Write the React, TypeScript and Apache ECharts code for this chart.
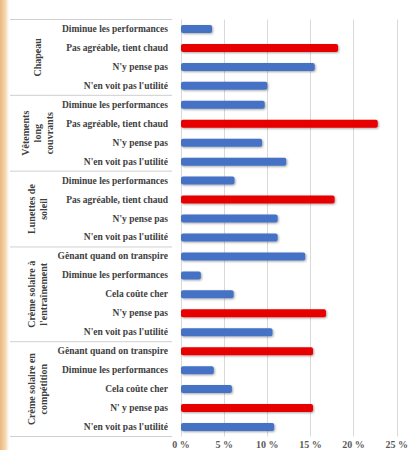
import React, { useEffect, useRef } from "react";
import * as echarts from "echarts";

const groupNames = [
  "Chapeau",
  "Vêtements\nlong\ncouvrants",
  "Lunettes de\nsoleil",
  "Crème solaire à\nl'entraînement",
  "Crème solaire en\ncompétition",
];

const chapeauReasons = ["Diminue les performances", "Pas agréable, tient chaud", "N'y pense pas", "N'en voit pas l'utilité"];
const chapeauValues = [3.6, 18.2, 15.5, 10.0];

const vetementsReasons = ["Diminue les performances", "Pas agréable, tient chaud", "N'y pense pas", "N'en voit pas l'utilité"];
const vetementsValues = [9.7, 22.8, 9.4, 12.2];

const lunettesReasons = ["Diminue les performances", "Pas agréable, tient chaud", "N'y pense pas", "N'en voit pas l'utilité"];
const lunettesValues = [6.2, 17.8, 11.2, 11.2];

const entrainementReasons = ["Gênant quand on transpire", "Diminue les performances", "Cela coûte cher", "N'y pense pas", "N'en voit pas l'utilité"];
const entrainementValues = [14.4, 2.3, 6.1, 16.8, 10.6];

const competitionReasons = ["Gênant quand on transpire", "Diminue les performances", "Cela coûte cher", "N' y pense pas", "N'en voit pas l'utilité"];
const competitionValues = [15.3, 3.8, 5.9, 15.3, 10.8];

const xTicks = [0, 5, 10, 15, 20, 25];

const groupReasons = [chapeauReasons, vetementsReasons, lunettesReasons, entrainementReasons, competitionReasons];
const groupValues = [chapeauValues, vetementsValues, lunettesValues, entrainementValues, competitionValues];

const BLUE = "#4472c4";
const RED = "#e60000";

export default function App() {
  const ref = useRef<HTMLDivElement>(null);

  useEffect(() => {
    if (!ref.current) return;
    const chart = echarts.init(ref.current, null, { renderer: "svg" });

    const categories: string[] = [];
    const data: any[] = [];
    const groupRanges: { start: number; end: number }[] = [];
    groupReasons.forEach((reasons, g) => {
      const vals = groupValues[g];
      const max = Math.max(...vals);
      const start = categories.length;
      reasons.forEach((r, i) => {
        categories.push(`${g}|${i}|${r}`);
        data.push({
          value: vals[i],
          itemStyle: { color: vals[i] === max ? RED : BLUE },
        });
      });
      groupRanges.push({ start, end: categories.length - 1 });
    });

    const option: any = {
      animation: false,
      grid: { left: 181, right: 1, top: 19.5, bottom: 13.5, containLabel: false },
      xAxis: {
        type: "value",
        min: xTicks[0],
        max: xTicks[xTicks.length - 1],
        interval: 5,
        axisLine: { show: false },
        axisTick: { show: false },
        splitLine: { show: true, lineStyle: { color: "#d9d9d9", width: 1 } },
        axisLabel: {
          margin: 3,
          fontFamily: "Liberation Serif",
          fontWeight: "bold",
          fontSize: 10,
          color: "#595959",
          formatter: (v: number) => `${v} %`,
        },
      },
      yAxis: {
        type: "category",
        inverse: true,
        data: categories,
        axisLine: { show: false },
        axisTick: { show: false },
        axisLabel: {
          margin: 13,
          fontFamily: "Liberation Serif",
          fontWeight: "bold",
          fontSize: 9.5,
          color: "#404040",
          interval: 0,
          formatter: (v: string) => v.split("|").slice(2).join("|"),
        },
      },
      series: [
        {
          type: "bar",
          data,
          barWidth: 8,
          itemStyle: {
            borderRadius: 2,
            shadowColor: "rgba(0,0,0,0.35)",
            shadowBlur: 2,
            shadowOffsetX: 1,
            shadowOffsetY: 1,
          },
        },
      ],
    };
    chart.setOption(option);

    const yOf = (i: number) => chart.convertToPixel({ yAxisIndex: 0 }, i) as number;
    const band = yOf(1) - yOf(0);
    const graphics: any[] = [
      {
        type: "rect",
        left: 0,
        top: 0,
        shape: { x: 0, y: 0, width: 9, height: 450 },
        style: {
          fill: new echarts.graphic.LinearGradient(0, 0, 1, 0, [
            { offset: 0, color: "#eab680" },
            { offset: 0.6, color: "#f6d9b0" },
            { offset: 1, color: "#ffffff" },
          ]),
        },
        silent: true,
      },
    ];
    const boundaries: number[] = [yOf(0) - band / 2];
    groupRanges.forEach((r) => boundaries.push(yOf(r.end) + band / 2));
    boundaries.forEach((y) => {
      graphics.push({
        type: "line",
        shape: { x1: 10, y1: y, x2: 172, y2: y },
        style: { stroke: "#cfcfcf", lineWidth: 1 },
        silent: true,
      });
    });
    groupRanges.forEach((r, g) => {
      const cy = (yOf(r.start) + yOf(r.end)) / 2;
      graphics.push({
        type: "text",
        x: 37,
        y: cy,
        rotation: Math.PI / 2,
        style: {
          text: groupNames[g],
          align: "center",
          verticalAlign: "middle",
          fontFamily: "Liberation Serif",
          fontWeight: "bold",
          fontSize: 10,
          lineHeight: 12,
          fill: "#404040",
        },
        silent: true,
      });
    });
    chart.setOption({ graphic: graphics });

    return () => chart.dispose();
  }, []);

  return (
    <div
      ref={ref}
      style={{ position: "fixed", left: 0, top: 0, width: 411, height: 450, background: "#ffffff" }}
    />
  );
}
